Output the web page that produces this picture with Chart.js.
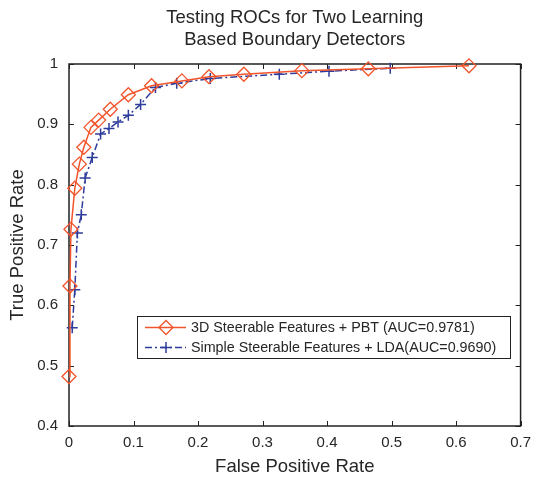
<!DOCTYPE html>
<html><head><meta charset="utf-8">
<script src="https://cdn.jsdelivr.net/npm/chart.js@4"></script>
<style>html,body{margin:0;padding:0;background:#fff}#wrap{width:539px;height:479px}</style>
</head><body><div id="wrap"><canvas id="c" width="539" height="479"></canvas></div>
<script>
const titleLines = ['Testing ROCs for Two Learning', 'Based Boundary Detectors'];
const xAxisLabel = 'False Positive Rate';
const yAxisLabel = 'True Positive Rate';
const xTicks = [0, 0.1, 0.2, 0.3, 0.4, 0.5, 0.6, 0.7];
const yTicks = [0.4, 0.5, 0.6, 0.7, 0.8, 0.9, 1];
const seriesNames = ['3D Steerable Features + PBT (AUC=0.9781)', 'Simple Steerable Features + LDA(AUC=0.9690)'];

const pbtFPR = [0.000, 0.0015, 0.003, 0.009, 0.016, 0.023, 0.034, 0.046, 0.064, 0.092, 0.128, 0.175, 0.217, 0.271, 0.361, 0.464, 0.620];
const pbtTPR = [0.482, 0.632, 0.726, 0.794, 0.834, 0.862, 0.895, 0.907, 0.925, 0.949, 0.964, 0.972, 0.979, 0.983, 0.989, 0.992, 0.997];
const ldaFPR = [0.005, 0.009, 0.013, 0.019, 0.025, 0.036, 0.049, 0.062, 0.076, 0.092, 0.111, 0.134, 0.167, 0.219, 0.326, 0.403, 0.498];
const ldaTPR = [0.563, 0.626, 0.720, 0.750, 0.811, 0.845, 0.884, 0.893, 0.904, 0.915, 0.933, 0.961, 0.968, 0.976, 0.983, 0.988, 0.993];

const RED = '#f2542b';
const BLUE = '#2e3c9c';
const TXT = '#262626';
const FONT = 'Liberation Sans, Arial, sans-serif';

const toPts = (xs, ys) => xs.map((x, i) => ({x: x, y: ys[i]}));

const framePlugin = {
  id: 'frame',
  beforeDatasetsDraw(chart) {
    const {ctx, chartArea: a, scales} = chart;
    ctx.save();
    ctx.strokeStyle = '#222';
    ctx.lineWidth = 1.5;
    ctx.strokeRect(a.left, a.top, a.right - a.left, a.bottom - a.top);
    ctx.lineWidth = 1;
    ctx.beginPath();
    const tl = 5;
    xTicks.forEach(v => {
      const px = Math.round(scales.x.getPixelForValue(v)) + 0.5;
      ctx.moveTo(px, a.bottom); ctx.lineTo(px, a.bottom - tl);
      ctx.moveTo(px, a.top); ctx.lineTo(px, a.top + tl);
    });
    yTicks.forEach(v => {
      const py = Math.round(scales.y.getPixelForValue(v)) + 0.5;
      ctx.moveTo(a.left, py); ctx.lineTo(a.left + tl, py);
      ctx.moveTo(a.right, py); ctx.lineTo(a.right - tl, py);
    });
    ctx.stroke();
    ctx.restore();
  },
  afterDraw(chart) {
    const {ctx, chartArea: a} = chart;
    const cx = (a.left + a.right) / 2;
    ctx.save();
    ctx.fillStyle = TXT;
    ctx.textAlign = 'center';
    ctx.textBaseline = 'middle';
    ctx.font = '18.5px ' + FONT;
    ctx.fillText(titleLines[0], cx, 18);
    ctx.fillText(titleLines[1], cx, 40);
    ctx.fillText(xAxisLabel, cx, 467);
    ctx.save();
    ctx.translate(18, (a.top + a.bottom) / 2);
    ctx.rotate(-Math.PI / 2);
    ctx.fillText(yAxisLabel, 0, 0);
    ctx.restore();

    // legend
    const lx = 137, ly = 316, lw = 373, lh = 42;
    ctx.fillStyle = '#fff';
    ctx.fillRect(lx, ly, lw, lh);
    ctx.strokeStyle = '#222';
    ctx.lineWidth = 1;
    ctx.strokeRect(lx + 0.5, ly + 0.5, lw, lh);
    const rows = [ly + 11.5, ly + 31.5];
    const ds = chart.data.datasets;
    ds.forEach((d, i) => {
      const y = rows[i];
      ctx.save();
      ctx.strokeStyle = d.borderColor;
      ctx.lineWidth = d.borderWidth;
      ctx.setLineDash(d.borderDash || []);
      ctx.beginPath();
      ctx.moveTo(lx + 8, y); ctx.lineTo(lx + 49, y);
      ctx.stroke();
      ctx.setLineDash([]);
      ctx.lineWidth = d.pointBorderWidth;
      ctx.fillStyle = 'rgba(0,0,0,0)';
      Chart.helpers.drawPoint(ctx, {pointStyle: d.pointStyle, rotation: 0, radius: d.pointRadius, borderWidth: d.pointBorderWidth}, lx + 29, y);
      ctx.restore();
      ctx.fillStyle = TXT;
      ctx.textAlign = 'left';
      ctx.textBaseline = 'middle';
      ctx.font = '14.3px ' + FONT;
      ctx.fillText(seriesNames[i], lx + 54, y + 1);
    });
    ctx.restore();
  }
};

new Chart(document.getElementById('c'), {
  type: 'line',
  data: {
    datasets: [
      {
        label: seriesNames[0],
        data: toPts(pbtFPR, pbtTPR),
        borderColor: RED, borderWidth: 1.5,
        pointStyle: 'rectRot', pointRadius: 7, pointBorderWidth: 1.3,
        pointBorderColor: RED, pointBackgroundColor: 'rgba(0,0,0,0)',
        tension: 0, fill: false, clip: false
      },
      {
        label: seriesNames[1],
        data: toPts(ldaFPR, ldaTPR),
        borderColor: BLUE, borderWidth: 1.5, borderDash: [7, 3, 2, 3],
        pointStyle: 'cross', pointRadius: 5.5, pointBorderWidth: 1.5,
        pointBorderColor: BLUE, pointBackgroundColor: 'rgba(0,0,0,0)',
        tension: 0, fill: false, clip: false
      }
    ]
  },
  options: {
    responsive: false, animation: false, devicePixelRatio: 1,
    layout: {padding: {top: 64, right: 13, left: 0, bottom: 0}},
    plugins: {legend: {display: false}, title: {display: false}, tooltip: {enabled: false}},
    scales: {
      x: {
        type: 'linear', min: 0, max: 0.7,
        afterBuildTicks: s => { s.ticks = xTicks.map(v => ({value: v})); },
        afterFit: s => { s.height = 53; },
        grid: {display: false, drawTicks: false},
        border: {display: false},
        ticks: {callback: v => String(v), font: {family: FONT, size: 15}, color: TXT, padding: 8, maxRotation: 0, autoSkip: false}
      },
      y: {
        type: 'linear', min: 0.4, max: 1,
        afterBuildTicks: s => { s.ticks = yTicks.map(v => ({value: v})); },
        afterFit: s => { s.width = 69; },
        grid: {display: false, drawTicks: false},
        border: {display: false},
        ticks: {callback: v => String(v), font: {family: FONT, size: 15}, color: TXT, padding: 11, autoSkip: false}
      }
    }
  },
  plugins: [framePlugin]
});
</script>
</body></html>
